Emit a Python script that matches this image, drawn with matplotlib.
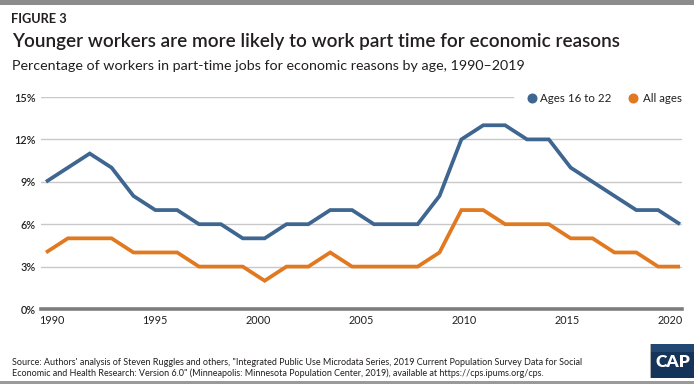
import matplotlib
matplotlib.use("Agg")
import matplotlib.pyplot as plt
from matplotlib.lines import Line2D
from matplotlib.patches import Rectangle

# ---------------- data ----------------
years = list(range(1990, 2020))
ages_16_22 = [9, 10, 11, 10, 8, 7, 7, 6, 6, 5, 5, 6, 6, 7, 7, 6, 6, 6, 8, 12,
              13, 13, 12, 12, 10, 9, 8, 7, 7, 6]
all_ages = [4, 5, 5, 5, 4, 4, 4, 3, 3, 3, 2, 3, 3, 4, 3, 3, 3, 3, 4, 7,
            7, 6, 6, 6, 5, 5, 4, 4, 3, 3]
series_names = ["Ages 16 to 22", "All ages"]
x_tick_labels = [1990, 1995, 2000, 2005, 2010, 2015, 2020]
y_ticks = [0, 3, 6, 9, 12, 15]

BLUE = "#3e6690"
ORANGE = "#e0791f"
TXT = "#231f20"
FONT = "Lato"

W, H = 694, 388
fig = plt.figure(figsize=(W / 100, H / 100), dpi=100)
fig.patch.set_facecolor("white")

def fx(px):
    return px / W

def fy(py):
    return 1 - py / H

# plot axes: x from px 41 to 682, y from 309 (0%) to 97 (15%)
ax_l, ax_r, ax_b, ax_t = 41, 682, 309, 97
ax = fig.add_axes([fx(ax_l), fy(ax_b), fx(ax_r - ax_l), (ax_b - ax_t) / H])
ax.set_facecolor("white")

# data index 0 sits at px 46, index 29 at px 680
step = (680 - 46) / 29
x0 = 1990 - (46 - ax_l) / step
x1 = 2019 + (ax_r - 680) / step
ax.set_xlim(x0, x1)
ax.set_ylim(0, 15)

# gridlines
for v in y_ticks[1:]:
    xmax = 1.0 if v != 15 else (513 - ax_l) / (ax_r - ax_l)
    ax.axhline(v, xmin=0, xmax=xmax, color="#c8c8c8", lw=1.0, zorder=1)
ax.axhline(0, color="#7d7d7d", lw=2.6, zorder=3, clip_on=False)

ax.plot(years, ages_16_22, color=BLUE, lw=2.7, zorder=4, solid_joinstyle="miter",
        solid_capstyle="butt")
ax.plot(years, all_ages, color=ORANGE, lw=2.7, zorder=4, solid_joinstyle="miter",
        solid_capstyle="butt")

for s in ax.spines.values():
    s.set_visible(False)

# x tick labels (category-like axis placement)
xpos = [1990 + (52 - 46) / step + (lab - 1990) * ((670 - 52) / 30) / step
        for lab in x_tick_labels]
ax.set_xticks(xpos)
ax.set_xticklabels([str(l) for l in x_tick_labels], fontsize=7.8, color=TXT,
                   family=FONT)
ax.set_yticks(y_ticks)
ax.set_yticklabels([f"{v}%" for v in y_ticks], fontsize=7.8, color=TXT,
                   family=FONT, fontweight="semibold")
ax.tick_params(axis="both", length=0)
ax.tick_params(axis="x", pad=4.5)
ax.tick_params(axis="y", pad=4)

# legend (manual)
leg_items = [(531.7, BLUE, series_names[0], 540.5), (633.3, ORANGE, series_names[1], 643)]
for mx, col, lab, tx in leg_items:
    fig.add_artist(Line2D([fx(mx)], [fy(97.7)], marker="o", markersize=6.2,
                          color=col, linestyle="none", transform=fig.transFigure))
    fig.text(fx(tx), fy(97.7), lab, fontsize=8.3, color=TXT, family=FONT,
             va="center_baseline", ha="left")

# header
fig.add_artist(Rectangle((0, fy(4.5)), 1, 4.5 / H, transform=fig.transFigure,
                         color="#8c8c8c", lw=0))
fig.text(fx(11), fy(23), "FIGURE 3", fontsize=9.2, fontweight="bold", color=TXT,
         family=FONT, va="baseline")
fig.text(fx(12), fy(47), "Younger workers are more likely to work part time for economic reasons",
         fontsize=13.6, fontweight="semibold", color=TXT, family=FONT, va="baseline")
fig.text(fx(12), fy(70), "Percentage of workers in part-time jobs for economic reasons by age, 1990\u20132019",
         fontsize=10.3, color=TXT, family=FONT, va="baseline")

# source
fig.text(fx(12), fy(365), "Source: Authors' analysis of Steven Ruggles and others, \"Integrated Public Use Microdata Series, 2019 Current Population Survey Data for Social",
         fontsize=6.5, color=TXT, family=FONT, va="baseline")
fig.text(fx(12), fy(376), "Economic and Health Research: Version 6.0\" (Minneapolis: Minnesota Population Center, 2019), available at https://cps.ipums.org/cps.",
         fontsize=6.5, color=TXT, family=FONT, va="baseline")

# bottom rule
fig.add_artist(Rectangle((0, fy(384)), 1, 3.5 / H, transform=fig.transFigure,
                         color="#9a9a9a", lw=0))

# CAP logo
fig.add_artist(Rectangle((fx(650), fy(378)), fx(44), 34 / H, transform=fig.transFigure,
                         color="#14345a", lw=0))
fig.add_artist(Rectangle((fx(650), fy(378)), fx(1.2), 34 / H, transform=fig.transFigure,
                         color="#b0b0b0", lw=0))
fig.add_artist(Rectangle((fx(651.2), fy(352)), fx(42.8), 8 / H, transform=fig.transFigure,
                         color="#2a5483", lw=0, alpha=0.6))
fig.text(fx(672.5), fy(362), "CAP", fontsize=12.5, fontweight="heavy", color="white",
         family=FONT, ha="center", va="center")

fig.savefig("out.png", dpi=100, facecolor="white")
